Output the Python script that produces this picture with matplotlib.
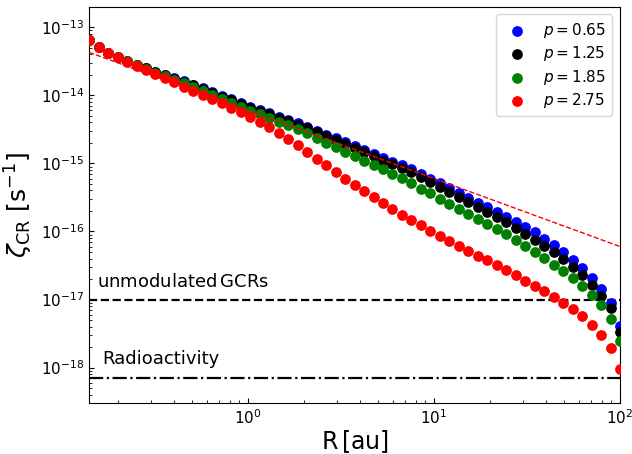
import matplotlib
matplotlib.use("Agg")
import matplotlib.pyplot as plt
import numpy as np

# radial grid (au), log-spaced
R = np.logspace(np.log10(0.14), 2, 57)

# log10 of the ionisation rate for each p
logz_065 = [-13.192, -13.287, -13.372, -13.436, -13.496, -13.551, -13.603, -13.654, -13.703, -13.750,
            -13.795, -13.849, -13.899, -13.954, -14.009, -14.059, -14.114, -14.169, -14.216, -14.262,
            -14.316, -14.359, -14.412, -14.460, -14.520, -14.576, -14.627, -14.687, -14.746, -14.803,
            -14.860, -14.919, -14.974, -15.030, -15.088, -15.155, -15.225, -15.295, -15.365, -15.434,
            -15.501, -15.575, -15.640, -15.708, -15.788, -15.861, -15.935, -16.013, -16.106, -16.205,
            -16.308, -16.416, -16.534, -16.681, -16.844, -17.056, -17.385]
logz_125 = [-13.192, -13.287, -13.372, -13.436, -13.496, -13.551, -13.604, -13.656, -13.706, -13.754,
            -13.800, -13.855, -13.906, -13.962, -14.018, -14.069, -14.125, -14.181, -14.230, -14.277,
            -14.333, -14.378, -14.433, -14.483, -14.545, -14.603, -14.656, -14.718, -14.779, -14.838,
            -14.897, -14.958, -15.015, -15.074, -15.133, -15.198, -15.270, -15.345, -15.416, -15.493,
            -15.566, -15.640, -15.714, -15.788, -15.861, -15.944, -16.032, -16.121, -16.215, -16.308,
            -16.411, -16.525, -16.637, -16.780, -16.942, -17.130, -17.473]
logz_185 = [-13.192, -13.287, -13.372, -13.436, -13.496, -13.554, -13.610, -13.665, -13.718, -13.770,
            -13.820, -13.879, -13.934, -13.993, -14.052, -14.106, -14.165, -14.224, -14.277, -14.327,
            -14.386, -14.435, -14.494, -14.560, -14.625, -14.695, -14.760, -14.829, -14.892, -14.962,
            -15.025, -15.088, -15.158, -15.221, -15.295, -15.369, -15.436, -15.516, -15.590, -15.664,
            -15.737, -15.811, -15.885, -15.965, -16.043, -16.121, -16.209, -16.304, -16.392, -16.490,
            -16.574, -16.681, -16.799, -16.928, -17.080, -17.286, -17.606]
logz_275 = [-13.192, -13.289, -13.378, -13.442, -13.506, -13.569, -13.628, -13.693, -13.752, -13.811,
            -13.875, -13.934, -13.993, -14.052, -14.115, -14.180, -14.245, -14.313, -14.396, -14.469,
            -14.553, -14.642, -14.730, -14.829, -14.932, -15.030, -15.124, -15.227, -15.316, -15.404,
            -15.497, -15.586, -15.674, -15.752, -15.832, -15.910, -15.991, -16.065, -16.136, -16.215,
            -16.283, -16.357, -16.426, -16.496, -16.569, -16.647, -16.721, -16.795, -16.879, -16.962,
            -17.050, -17.139, -17.248, -17.370, -17.518, -17.710, -18.015]

p_values = [0.65, 1.25, 1.85, 2.75]
colors = ['blue', 'black', 'green', 'red']

# reference power law zeta = A / R and the two floor levels
A_fit = 6e-15
zeta_gcr = 1e-17
zeta_rad = 7e-19

fig = plt.figure(figsize=(6.32, 4.54), dpi=100)
ax = fig.add_axes([0.141, 0.112, 0.840, 0.873])

for logz, p, c in zip([logz_065, logz_125, logz_185, logz_275], p_values, colors):
	ax.scatter(R, 10**np.array(logz), s=45, color=c, label=r'$p = %.2f$' % p, zorder=3)

ax.plot(R, A_fit / R, '--', color='red', lw=1.0, zorder=4)
ax.axhline(zeta_gcr, color='black', ls='--', lw=1.6)
ax.axhline(zeta_rad, color='black', ls='-.', lw=1.6)

ax.text(0.155, 1.55e-17, r'unmodulated$\,$GCRs', fontsize=13)
ax.text(0.165, 1.12e-18, 'Radioactivity', fontsize=13)

ax.set_xscale('log')
ax.set_yscale('log')
ax.set_xlim(0.14, 100)
ax.set_ylim(3e-19, 2e-13)
ax.tick_params(which='both', direction='in', labelsize=11)
ax.set_xlabel(r'R$\,$[au]', fontsize=17, labelpad=1)
ax.set_ylabel(r'$\zeta_{\rm CR}\ [{\rm s}^{-1}]$', fontsize=18)

ax.legend(loc='upper right', fontsize=11, handletextpad=0.7, labelspacing=0.3,
          borderaxespad=0.5)

fig.savefig('out.png', dpi=100)
